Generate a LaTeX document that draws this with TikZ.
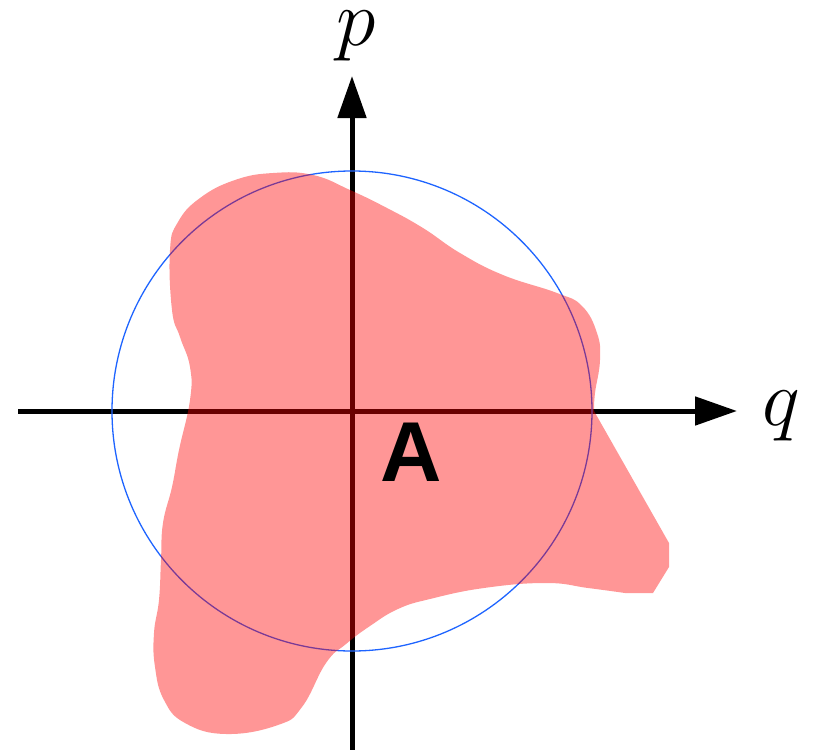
\RequirePackage{fix-cm}
\documentclass[tikz,border=0pt]{standalone}
\usepackage{fontspec}
\newfontfamily\labelsans{Liberation Sans}
\usetikzlibrary{arrows.meta}
\definecolor{circblue}{RGB}{30,100,255}
\tikzset{
  axis/.style={line width=5pt, -{Triangle[length=42pt,width=28pt]}},
  ring/.style={draw=circblue, line width=1.3pt},
  blob/.style={fill=red, fill opacity=0.41},
  axlabel/.style={inner sep=0pt, font=\fontsize{80}{96}\selectfont},
  arealabel/.style={inner sep=0pt, font=\labelsans\bfseries\fontsize{85}{100}\selectfont}
}
\begin{document}
\begin{tikzpicture}[x=1pt,y=-1pt]
\useasboundingbox (0,0) rectangle (815,750);
\coordinate (o) at (352,411);
\coordinate (xs) at (18,411);
\coordinate (xe) at (737,411);
\coordinate (ys) at (352,750);
\coordinate (ye) at (352,76);
\draw[axis] (xs) -- (xe);
\draw[axis] (ys) -- (ye);
\draw[ring] (o) circle[radius=240];
\fill[blob] plot[smooth, tension=0.75] coordinates {
 (625,593) (588,588) (546,583) (484,588) (430,599) (398,609) (370,626) (346,644)
 (326,663) (302,707) (278,725) (226,734) (185,723) (164,700) (155,667) (154,633)
 (159,600) (161,560) (163,523) (172,487) (179,450) (190,400) (190,367) (180,337)
 (172,310) (170,250) (178,222) (200,198) (235,180) (273,173) (313,175) (350,190)
 (387,208) (423,228) (460,253) (503,275) (557,293) (582,306) (597,333) (600,360)
 (595,393) (594,411)
} -- (669,543) -- (669,567) -- (653,593) -- cycle;
\node[axlabel] (p) at (356,36) {$p$};
\node[axlabel] (q) at (781,416) {$q$};
\node[arealabel] (A) at (411,452) {A};
\end{tikzpicture}
\end{document}
